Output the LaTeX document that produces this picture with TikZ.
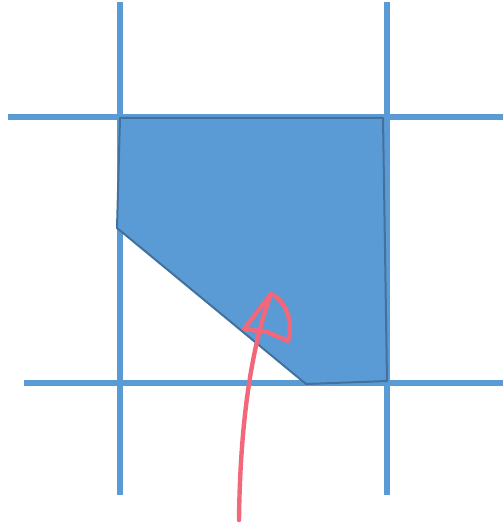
\documentclass[tikz,border=0pt]{standalone}
\usepackage{tikz}

\begin{document}
\begin{tikzpicture}[
        x=0.5pt, y=-0.5pt,
        gridline/.style={draw=gridblue, line width=2.6pt},
        region/.style={fill=gridblue, draw=edgeblue, line width=1pt, line join=round},
        stroke/.style={draw=penred, line width=2.2pt, line cap=round, line join=round}
    ]
    \definecolor{gridblue}{RGB}{91,155,213}
    \definecolor{edgeblue}{RGB}{65,113,156}
    \definecolor{penred}{RGB}{242,103,122}

    \useasboundingbox (0,0) rectangle (503,529);

    % ==========================================
    % 1. Grid lines
    % ==========================================
    \path[gridline] (120,2) -- (120,495);
    \path[gridline] (387,2) -- (387,495);
    \path[gridline] (8,117) -- (503,117);
    \path[gridline] (24,383) -- (503,383);

    % ==========================================
    % 2. Clipped cell
    % ==========================================
    \path[region] (120,118) -- (383,118) -- (387,381) -- (306,384) -- (117,228) -- cycle;

    % ==========================================
    % 3. Hand-drawn arrow
    % ==========================================
    \coordinate (tail) at (239,520);
    \coordinate (tip) at (271,294);
    \path[stroke] (tail) .. controls (240,430) and (250,350) .. (tip);
    \path[stroke] (tip) -- (244,329) -- (267,332) -- (288,341)
        .. controls (293,322) and (287,305) .. (275,296);

\end{tikzpicture}
\end{document}
